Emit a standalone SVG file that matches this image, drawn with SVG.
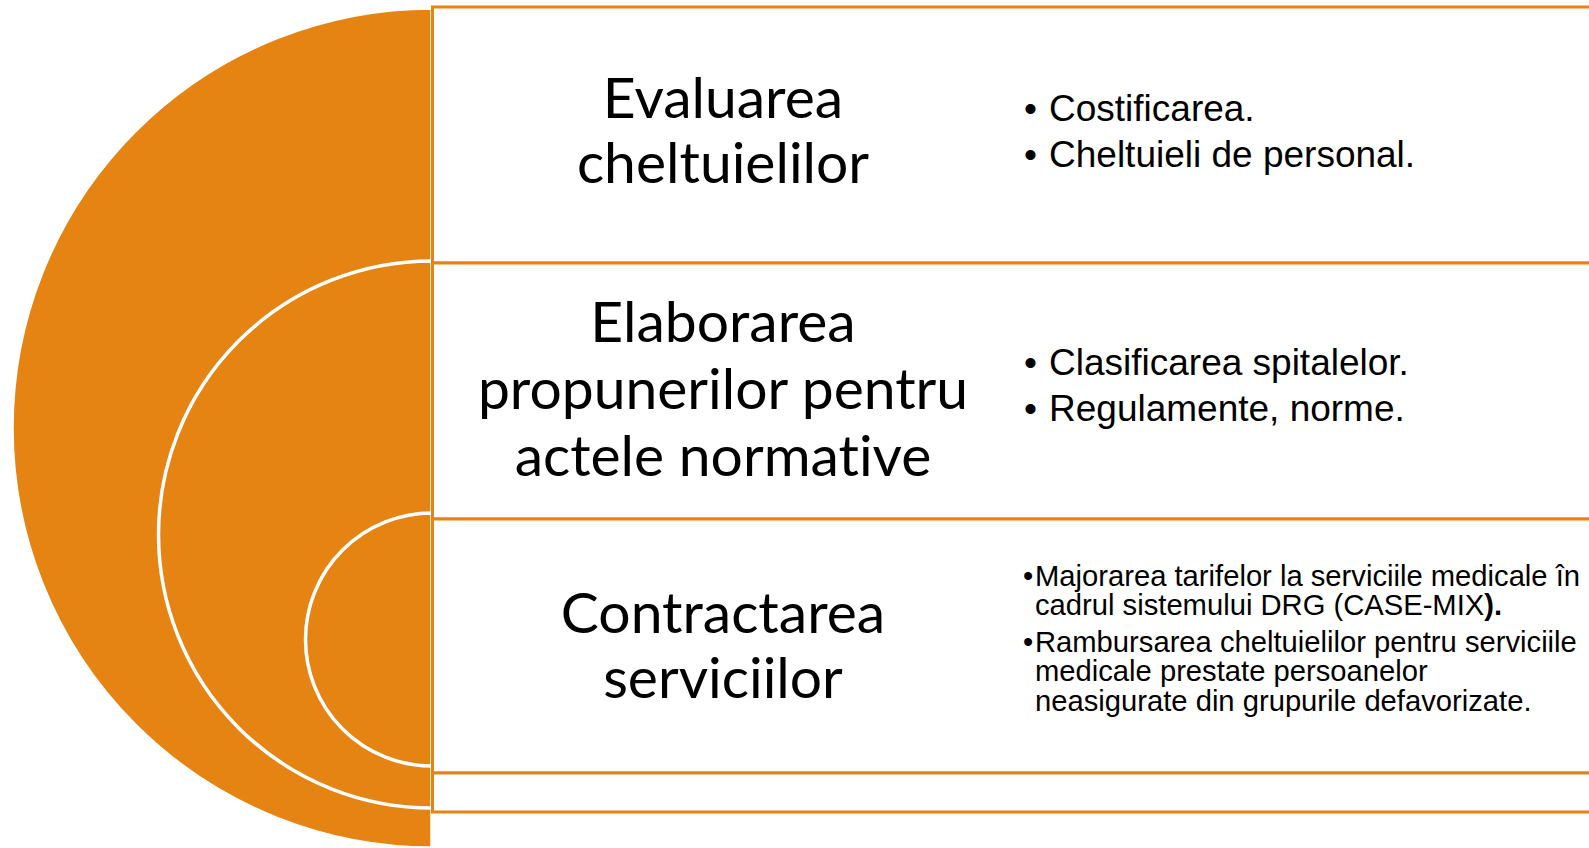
<svg xmlns="http://www.w3.org/2000/svg" width="1589" height="848" viewBox="0 0 1589 848">
<style>
.half{fill:#E58413;stroke:#FFFFFF;stroke-width:3.5}
.box{fill:#FFFFFF;stroke:#E58413;stroke-width:3}
.title{font-family:Lato,"Liberation Sans",sans-serif;font-size:57px;fill:#000;text-anchor:middle;font-variant-ligatures:none}
.bl{font-family:"Liberation Sans",Arial,sans-serif;font-size:37px;fill:#000}
.bs{font-family:"Liberation Sans",Arial,sans-serif;font-size:29.2px;fill:#000}
</style>
<rect width="1589" height="848" fill="#FFFFFF"/>
<g id="circles">
<path class="half" d="M432 8 A420 420 0 0 0 432 848 Z"/>
<path class="half" d="M432 261 A273.5 273.5 0 0 0 432 808 Z"/>
<path class="half" d="M432 513 A126.5 126.5 0 0 0 432 766 Z"/>
</g>
<g id="connectors"></g>
<g id="row1">
<rect class="box" x="432.5" y="7" width="1170" height="256"/>
<text class="title" x="723" y="118">Evaluarea</text>
<text class="title" x="723" y="183">cheltuielilor</text>
<text class="bl" x="1024" y="121">•</text>
<text class="bl" x="1049" y="121">Costificarea.</text>
<text class="bl" x="1024" y="167">•</text>
<text class="bl" x="1049" y="167">Cheltuieli de personal.</text>
</g>
<g id="row2">
<rect class="box" x="432.5" y="263" width="1170" height="256"/>
<text class="title" x="723" y="342">Elaborarea</text>
<text class="title" x="723" y="409">propunerilor pentru</text>
<text class="title" x="723" y="476">actele normative</text>
<text class="bl" x="1024" y="375">•</text>
<text class="bl" x="1049" y="375">Clasificarea spitalelor.</text>
<text class="bl" x="1024" y="421">•</text>
<text class="bl" x="1049" y="421">Regulamente, norme.</text>
</g>
<g id="row3">
<rect class="box" x="432.5" y="519" width="1170" height="254"/>
<text class="title" x="723" y="633">Contractarea</text>
<text class="title" x="723" y="698">serviciilor</text>
<text class="bs" x="1023" y="586">•</text>
<text class="bs" x="1035" y="586">Majorarea tarifelor la serviciile medicale în</text>
<text class="bs" x="1035" y="615">cadrul sistemului DRG (CASE-MIX<tspan font-weight="bold">).</tspan></text>
<text class="bs" x="1023" y="652">•</text>
<text class="bs" x="1035" y="652">Rambursarea cheltuielilor pentru serviciile</text>
<text class="bs" x="1035" y="681">medicale prestate persoanelor</text>
<text class="bs" x="1035" y="711">neasigurate din grupurile defavorizate.</text>
</g>
<g id="row4">
<rect class="box" x="432.5" y="773" width="1170" height="39"/>
</g>
</svg>
